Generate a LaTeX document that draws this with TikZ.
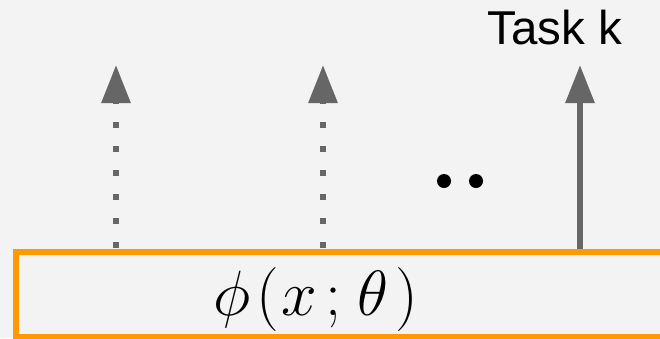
\RequirePackage{fix-cm}
\documentclass[tikz,border=0pt]{standalone}
\usepackage{fontspec}
\newfontfamily\arialfont{Liberation Sans}
\usetikzlibrary{arrows.meta}
\definecolor{bgc}{HTML}{F3F3F3}
\definecolor{arrowc}{HTML}{666666}
\definecolor{orangec}{HTML}{FF9900}
\tikzset{
  uparrow/.style={draw=arrowc, line width=6pt, -{Triangle[width=28pt,length=38pt]}},
  dottedarrow/.style={uparrow, dash pattern=on 6pt off 18pt, dash phase=20pt},
  framebox/.style={draw=orangec, line width=6pt, inner sep=0pt, outer sep=0pt},
  bigdot/.style={circle, fill=black, inner sep=0pt, minimum size=14pt},
}
\begin{document}
\begin{tikzpicture}[x=1pt,y=-1pt]
  \fill[bgc] (0,0) rectangle (660,338);
  \clip (0,0) rectangle (660,338);
  % frame (extends past right edge)
  \node[framebox, minimum width=684pt, minimum height=85pt] (enc) at (358,294.5) {};
  % arrow tips
  \coordinate (t1) at (116,65);
  \coordinate (t2) at (323,65);
  \coordinate (t3) at (580,65);
  \draw[dottedarrow] (enc.north -| t1) -- (t1);
  \draw[dottedarrow] (enc.north -| t2) -- (t2);
  \draw[uparrow] (enc.north -| t3) -- (t3);
  % redraw frame on top
  \node[framebox, minimum width=684pt, minimum height=85pt] at (358,294.5) {};
  \node[inner sep=0pt, anchor=base west] (phi) at (213,315)
    {\fontsize{64}{72}\selectfont$\phi\kern6pt(\kern3pt x\kern8pt;\kern5pt\theta\kern7pt)$};
  \node[bigdot] (d1) at (444,181) {};
  \node[bigdot] (d2) at (476,181) {};
  \node[inner sep=0pt, anchor=base west] (task) at (487,44) {\arialfont\fontsize{47.5}{56}\selectfont Task k};
\end{tikzpicture}
\end{document}
